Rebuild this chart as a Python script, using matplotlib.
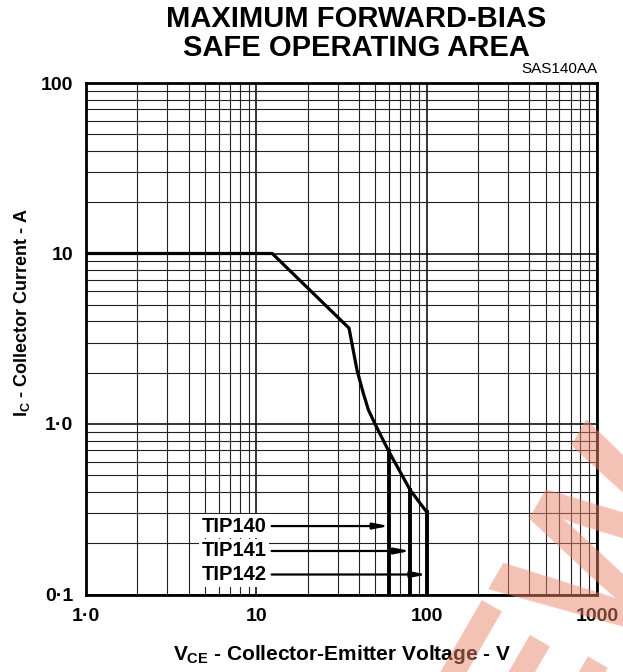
import numpy as np
import matplotlib
matplotlib.use("Agg")
import matplotlib.pyplot as plt
from matplotlib.ticker import FixedLocator, LogLocator, NullFormatter

plt.rcParams['font.family'] = ['Liberation Sans', 'DejaVu Sans']
plt.rcParams['mathtext.fontset'] = 'custom'
plt.rcParams['mathtext.rm'] = 'Liberation Sans:bold'
plt.rcParams['mathtext.it'] = 'Liberation Sans:bold'
plt.rcParams['mathtext.bf'] = 'Liberation Sans:bold'

# SOA boundary
vce = [1, 12.4, 35, 39, 42.5, 45.5, 50, 60, 80, 100]
ic = [10, 10, 3.65, 2.07, 1.51, 1.21, 0.99, 0.69, 0.41, 0.305]

# device voltage limits and arrow levels
devices = ["TIP140", "TIP141", "TIP142"]
vceo = [60, 80, 100]
ic_top = [0.69, 0.41, 0.305]
arrow_y = [0.252, 0.18, 0.131]
arrow_x0 = 12.3

x_ticks = [1, 10, 100, 1000]
x_labels = ["1·0", "10", "100", "1000"]
y_ticks = [0.1, 1, 10, 100]
y_labels = ["0·1", "1·0", "10", "100"]

fig = plt.figure(figsize=(6.23, 6.72), dpi=100)
ax = fig.add_axes([86 / 623, 1 - 594.5 / 672, (597 - 86) / 623, (594.5 - 83) / 672])
ax.set_xscale('log')
ax.set_yscale('log')
ax.set_xlim(1, 1000)
ax.set_ylim(0.1, 100)

ax.xaxis.set_major_locator(FixedLocator(x_ticks))
ax.yaxis.set_major_locator(FixedLocator(y_ticks))
ax.xaxis.set_minor_locator(LogLocator(base=10, subs=np.arange(2, 10)))
ax.yaxis.set_minor_locator(LogLocator(base=10, subs=np.arange(2, 10)))
ax.xaxis.set_minor_formatter(NullFormatter())
ax.yaxis.set_minor_formatter(NullFormatter())
ax.set_xticklabels(x_labels, fontsize=14, fontweight='bold')
ax.set_yticklabels(y_labels, fontsize=14, fontweight='bold')
ax.tick_params(axis='y', which='both', length=0, pad=9)
ax.tick_params(axis='x', which='both', length=0, pad=10)

ax.grid(which='major', color='black', lw=1.1)
ax.grid(which='minor', color='#222222', lw=0.8)
ax.set_axisbelow(True)
for s in ax.spines.values():
    s.set_linewidth(2)

ax.plot(vce, ic, color='black', lw=2.3, solid_joinstyle='miter', zorder=5)
for v, top in zip(vceo, ic_top):
    ax.plot([v, v], [0.1, top], color='black', lw=2.8, zorder=5)

for name, v, y in zip(devices, vceo, arrow_y):
    ax.annotate("", xy=(v, y), xytext=(arrow_x0, y),
                arrowprops=dict(arrowstyle='-|>,head_length=0.9,head_width=0.18',
                                color='black', lw=1.6, shrinkA=0, shrinkB=0), zorder=6)
    ax.text(arrow_x0 * 0.93, y, name, ha='right', va='center', fontsize=14.5,
            fontweight='bold', zorder=6,
            bbox=dict(facecolor='white', edgecolor='none', pad=2))

fig.text(356 / 623, 1 - 19 / 672, "MAXIMUM FORWARD-BIAS", ha='center', va='center',
         fontsize=21, fontweight='bold')
fig.text(356 / 623, 1 - 48 / 672, "SAFE OPERATING AREA", ha='center', va='center',
         fontsize=21, fontweight='bold')
fig.text(597 / 623, 1 - 69 / 672, "SAS140AA", ha='right', va='center', fontsize=11)

fig.text(342 / 623, 1 - 654 / 672, "$V_{CE}$ - Collector-Emitter Voltage - V",
         ha='center', va='center', fontsize=15, fontweight='bold')
fig.text(22 / 623, 1 - 312 / 672, "$I_C$ - Collector Current - A", ha='center',
         va='center', rotation=90, fontsize=13, fontweight='bold')

# watermark
fig.text(0.53, -0.37, "NEW", rotation=60, fontsize=150, fontweight='bold',
         color='#e8866a', alpha=0.5, ha='left', va='bottom', zorder=20)

fig.savefig("out.png", dpi=100)
